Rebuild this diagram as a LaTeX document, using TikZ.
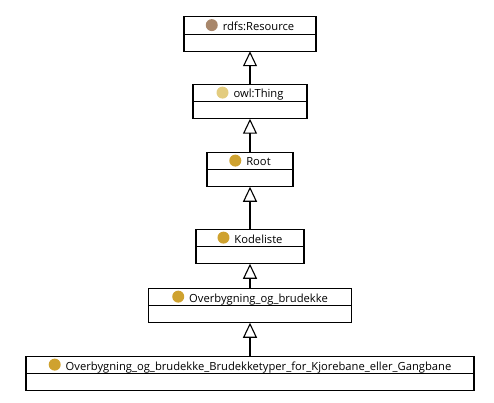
\documentclass[tikz,border=0pt]{standalone}
\usepackage{fontspec}
\setmainfont{Open Sans}
\usetikzlibrary{arrows.meta,positioning}

\definecolor{resbrown}{HTML}{A8876B}
\definecolor{thingyellow}{HTML}{E3CC7F}
\definecolor{classgold}{HTML}{CFA22F}

% barevna tecka pred nazvem tridy
\newcommand{\classdot}[1]{\tikz[baseline=-0.9ex]\fill[#1] (0,0) circle (6pt);\hspace{5pt}}

\tikzset{
  classhead/.style={draw, line width=1.1pt, minimum height=17.5pt, inner sep=0pt,
    outer sep=0pt, text height=11pt, text depth=1pt, font=\fontsize{11.2}{13}\selectfont},
  classbody/.style={draw, line width=1.1pt, minimum height=17pt, inner sep=0pt,
    outer sep=0pt},
  isa/.style={line width=2.6pt, -{Triangle[open,length=15pt,width=14pt,line width=1.1pt]}}
}

\begin{document}
\begin{tikzpicture}[x=1pt,y=-1pt]
        \useasboundingbox (0,0) rectangle (494,403);
        % Parametry
        \def\cx{250}      % osa diagramu

        % Tridy (hlavicka + prazdne telo)
        \node[classhead, minimum width=132pt] (resource) at (\cx,25.5) {\classdot{resbrown}rdfs:Resource};
        \node[classbody, minimum width=132pt, below=0pt of resource] (resourceb) {};

        \node[classhead, minimum width=114pt] (thing) at (\cx,93) {\classdot{thingyellow}owl:Thing};
        \node[classbody, minimum width=114pt, below=0pt of thing] (thingb) {};

        \node[classhead, minimum width=86pt] (root) at (\cx,161) {\classdot{classgold}Root};
        \node[classbody, minimum width=86pt, below=0pt of root] (rootb) {};

        \node[classhead, minimum width=108pt] (kodeliste) at (\cx,238) {\classdot{classgold}Kodeliste};
        \node[classbody, minimum width=108pt, below=0pt of kodeliste] (kodelisteb) {};

        \node[classhead, minimum width=203pt] (overb) at (\cx,297) {\classdot{classgold}Overbygning\_og\_brudekke};
        \node[classbody, minimum width=203pt, below=0pt of overb] (overbb) {};

        \node[classhead, minimum width=448pt] (brudekke) at (\cx,365) {\classdot{classgold}Overbygning\_og\_brudekke\_Brudekketyper\_for\_Kjorebane\_eller\_Gangbane};
        \node[classbody, minimum width=448pt, below=0pt of brudekke] (brudekkeb) {};

        % Dedicnost (podtrida -> nadtrida)
        \draw[isa] (thing.north) -- (resourceb.south);
        \draw[isa] (root.north) -- (thingb.south);
        \draw[isa] (kodeliste.north) -- (rootb.south);
        \draw[isa] (overb.north) -- (kodelisteb.south);
        \draw[isa] (brudekke.north) -- (overbb.south);
      \end{tikzpicture}
\end{document}
